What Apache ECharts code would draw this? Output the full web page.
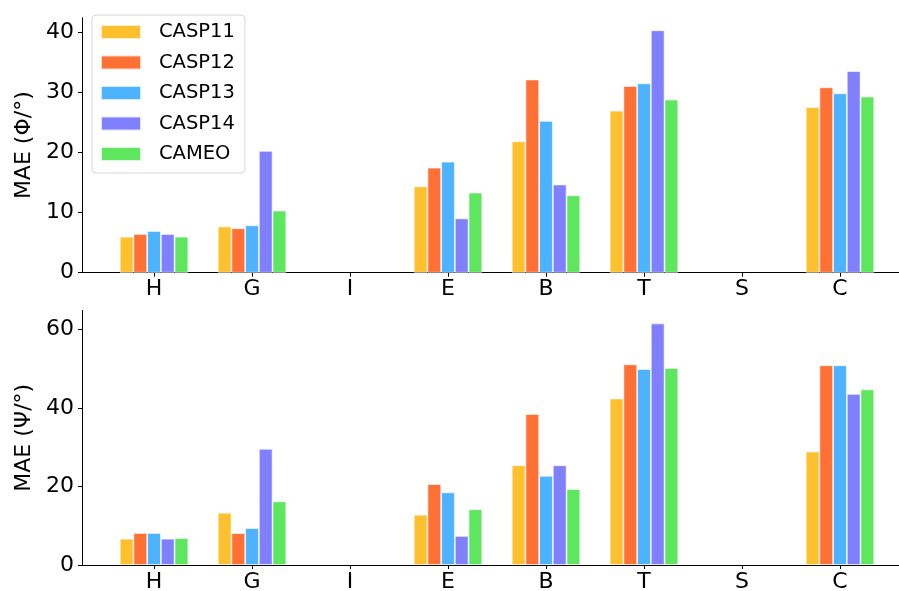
<!DOCTYPE html>
<html><head><meta charset="utf-8">
<script src="https://cdn.jsdelivr.net/npm/echarts@6/dist/echarts.min.js"></script>
<style>html,body{margin:0;padding:0;background:#fff}#c{width:899px;height:591px}</style>
</head><body><div id="c"></div>
<script>
const categories = ['H','G','I','E','B','T','S','C'];
const seriesNames = ['CASP11','CASP12','CASP13','CASP14','CAMEO'];
const colors = ['#FFC02E','#FF7034','#4DB3FF','#8080FF','#5EE65E'];

// Top panel: MAE (Φ/°)
const phiCASP11 = [6.0, 7.7, null, 14.4, 21.9, 27.0, null, 27.6];
const phiCASP12 = [6.45, 7.4, null, 17.5, 32.2, 31.1, null, 30.9];
const phiCASP13 = [6.95, 7.9, null, 18.5, 25.3, 31.55, null, 29.9];
const phiCASP14 = [6.45, 20.3, null, 9.05, 14.7, 40.4, null, 33.6];
const phiCAMEO  = [6.0, 10.35, null, 13.35, 12.9, 28.85, null, 29.35];

// Bottom panel: MAE (Ψ/°)
const psiCASP11 = [6.7, 13.3, null, 12.8, 25.4, 42.4, null, 28.9];
const psiCASP12 = [8.15, 8.1, null, 20.6, 38.45, 51.1, null, 50.85];
const psiCASP13 = [8.15, 9.4, null, 18.5, 22.7, 49.9, null, 50.85];
const psiCASP14 = [6.7, 29.6, null, 7.4, 25.4, 61.5, null, 43.55];
const psiCAMEO  = [6.85, 16.2, null, 14.2, 19.35, 50.15, null, 44.7];

const phiTicks = [0, 10, 20, 30, 40];
const psiTicks = [0, 20, 40, 60];

const phiData = [phiCASP11, phiCASP12, phiCASP13, phiCASP14, phiCAMEO];
const psiData = [psiCASP11, psiCASP12, psiCASP13, psiCASP14, psiCAMEO];

const FONT = 'DejaVu Sans';
const catIdx = categories.map((c, i) => i);

function toPairs(arr) {
  const out = [];
  arr.forEach((v, i) => { if (v !== null) out.push([i, v]); });
  return out;
}

function xAxis(gi) {
  return {
    type: 'value', gridIndex: gi, min: -0.735, max: 7.735,
    axisLine: {show: true, onZero: false, lineStyle: {color: '#000', width: 1}},
    axisTick: {show: true, length: 4, customValues: catIdx, lineStyle: {color: '#000', width: 1}},
    axisLabel: {customValues: catIdx, formatter: v => categories[Math.round(v)], fontSize: 22, color: '#000', margin: 6, fontFamily: FONT},
    splitLine: {show: false}
  };
}
function yAxis(gi, max, ticks, name) {
  return {
    type: 'value', gridIndex: gi, min: 0, max: max,
    axisLine: {show: true, onZero: false, lineStyle: {color: '#000', width: 1}},
    axisTick: {show: true, length: 4, customValues: ticks, lineStyle: {color: '#000', width: 1}},
    axisLabel: {customValues: ticks, fontSize: 22, color: '#000', margin: 8, fontFamily: FONT},
    splitLine: {show: false},
    name: name, nameLocation: 'middle', nameGap: 45,
    nameTextStyle: {fontSize: 22, color: '#000', fontFamily: FONT}
  };
}

const series = [];
[phiData, psiData].forEach((panel, gi) => {
  panel.forEach((arr, si) => {
    series.push({
      type: 'bar', name: seriesNames[si], xAxisIndex: gi, yAxisIndex: gi,
      data: toPairs(arr), barWidth: 13.7, barGap: '0%',
      itemStyle: {color: colors[si], borderColor: 'rgba(255,255,255,0.75)', borderWidth: 0.8},
      emphasis: {disabled: true}
    });
  });
});

const chart = echarts.init(document.getElementById('c'), null, {renderer: 'canvas'});
chart.setOption({
  animation: false,
  backgroundColor: '#fff',
  textStyle: {fontFamily: FONT},
  grid: [
    {left: 82, top: 17.7, width: 830, height: 255, outerBoundsMode: 'none', containLabel: false},
    {left: 82, top: 310.5, width: 830, height: 254.5, outerBoundsMode: 'none', containLabel: false}
  ],
  xAxis: [xAxis(0), xAxis(1)],
  yAxis: [yAxis(0, 42.5, phiTicks, 'MAE (Φ/°)'), yAxis(1, 64.8, psiTicks, 'MAE (Ψ/°)')],
  legend: {
    data: seriesNames, orient: 'vertical', left: 92, top: 15,
    itemWidth: 40, itemHeight: 14, itemGap: 10.5,
    padding: [7, 10, 9, 8],
    backgroundColor: 'rgba(255,255,255,0.8)', borderColor: '#d6d6d6', borderWidth: 1, borderRadius: 4,
    textStyle: {fontSize: 19.5, color: '#000', fontFamily: FONT, padding: [0, 0, 0, 13]},
    icon: 'rect'
  },
  series: series
});
</script>
</body></html>
